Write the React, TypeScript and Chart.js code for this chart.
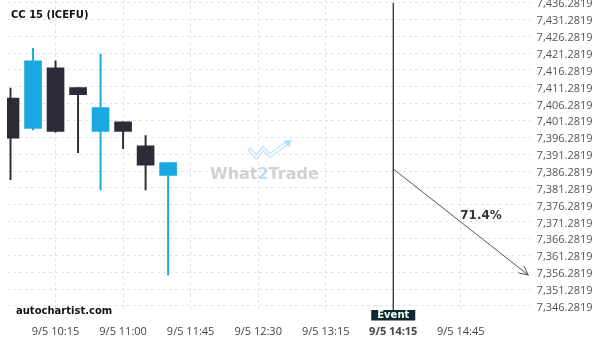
import React, { useEffect, useRef } from "react";
import { Chart, registerables } from "chart.js";

Chart.register(...registerables);

// ---- data ----
const candleTimes = ["9/5 09:45", "9/5 10:00", "9/5 10:15", "9/5 10:30", "9/5 10:45", "9/5 11:00", "9/5 11:15", "9/5 11:30"];
const opens = [7407.9, 7398.9, 7416.9, 7411.0, 7398.0, 7400.9, 7393.8, 7385.0];
const highs = [7410.9, 7422.7, 7419.0, 7411.0, 7421.0, 7400.9, 7396.8, 7388.8];
const lows = [7383.7, 7398.5, 7397.8, 7391.7, 7380.7, 7392.9, 7380.7, 7355.5];
const closes = [7396.0, 7419.0, 7398.0, 7408.9, 7405.1, 7398.0, 7388.0, 7388.8];

const xTickIndex = [2, 5, 8, 11, 14, 17, 20];
const xTickLabels = ["9/5 10:15", "9/5 11:00", "9/5 11:45", "9/5 12:30", "9/5 13:15", "9/5 14:15", "9/5 14:45"];
const yTicks = [
  7346.2819, 7351.2819, 7356.2819, 7361.2819, 7366.2819, 7371.2819, 7376.2819,
  7381.2819, 7386.2819, 7391.2819, 7396.2819, 7401.2819, 7406.2819, 7411.2819,
  7416.2819, 7421.2819, 7426.2819, 7431.2819, 7436.2819,
];

const eventIndex = 17;
const arrowX = [17, 23];
const arrowY = [7386.9, 7355.45];
const probabilityLabel = "71.4%";
const probabilityPos = [20.9, 7372.9];
const symbolTitle = "CC 15 (ICEFU)";
const brand = "autochartist.com";

const UP = "#1ba8e1";
const DOWN = "#2b2c37";

function fmt(v: number) {
  const [a, b] = v.toFixed(4).split(".");
  return a.replace(/\B(?=(\d{3})+(?!\d))/g, ",") + "." + b;
}

const overlay = {
  id: "overlay",
  beforeDatasetsDraw(chart: any) {
    const { ctx } = chart;
    ctx.save();
    // watermark logo
    ctx.lineJoin = "round";
    ctx.lineCap = "round";
    const pts = [
      [250, 150],
      [256.5, 157],
      [263, 148.5],
      [270, 155.5],
      [287, 143],
    ];
    ctx.strokeStyle = "rgba(150,205,235,0.55)";
    ctx.lineWidth = 4.5;
    ctx.beginPath();
    pts.forEach((p, i) => (i ? ctx.lineTo(p[0], p[1]) : ctx.moveTo(p[0], p[1])));
    ctx.stroke();
    ctx.strokeStyle = "#ffffff";
    ctx.lineWidth = 1.6;
    ctx.stroke();
    ctx.fillStyle = "rgba(150,205,235,0.55)";
    ctx.beginPath();
    ctx.moveTo(292, 139.5);
    ctx.lineTo(283, 141);
    ctx.lineTo(289.5, 147.5);
    ctx.closePath();
    ctx.fill();
    // watermark text
    ctx.font = "bold 16px 'DejaVu Sans'";
    ctx.textBaseline = "alphabetic";
    ctx.textAlign = "left";
    let x = 210;
    const y = 178.5;
    const parts: [string, string][] = [
      ["What", "rgba(165,165,165,0.5)"],
      ["2", "rgba(110,185,230,0.45)"],
      ["Trade", "rgba(165,165,165,0.5)"],
    ];
    for (const [t, c] of parts) {
      ctx.fillStyle = c;
      ctx.fillText(t, x, y);
      x += ctx.measureText(t).width;
    }
    ctx.restore();
  },
  afterDatasetsDraw(chart: any) {
    const { ctx, chartArea, scales } = chart;
    const xs = scales.x;
    const ys = scales.y;
    ctx.save();
    // event line
    const ex = xs.getPixelForValue(eventIndex);
    ctx.strokeStyle = "#0d2a30";
    ctx.lineWidth = 1.2;
    ctx.beginPath();
    ctx.moveTo(ex, chartArea.top + 3);
    ctx.lineTo(ex, chartArea.bottom);
    ctx.stroke();
    // event box
    ctx.fillStyle = "#0b2a2f";
    ctx.fillRect(ex - 22, chartArea.bottom, 44, 10.5);
    ctx.fillStyle = "#ffffff";
    ctx.font = "bold 10px 'DejaVu Sans'";
    ctx.textAlign = "center";
    ctx.textBaseline = "middle";
    ctx.fillText("Event", ex, chartArea.bottom + 5.5);
    // arrowhead
    const x1 = xs.getPixelForValue(arrowX[0]);
    const y1 = ys.getPixelForValue(arrowY[0]);
    const x2 = xs.getPixelForValue(arrowX[1]);
    const y2 = ys.getPixelForValue(arrowY[1]);
    const ang = Math.atan2(y2 - y1, x2 - x1);
    const L = 10;
    ctx.strokeStyle = "#555";
    ctx.lineWidth = 1;
    ctx.beginPath();
    ctx.moveTo(x2 - L * Math.cos(ang - 0.45), y2 - L * Math.sin(ang - 0.45));
    ctx.lineTo(x2, y2);
    ctx.lineTo(x2 - L * Math.cos(ang + 0.45), y2 - L * Math.sin(ang + 0.45));
    ctx.stroke();
    // probability label
    ctx.fillStyle = "#333";
    ctx.font = "bold 12px 'DejaVu Sans'";
    ctx.textAlign = "center";
    ctx.textBaseline = "middle";
    ctx.fillText(probabilityLabel, xs.getPixelForValue(probabilityPos[0]), ys.getPixelForValue(probabilityPos[1]));
    // title and brand
    ctx.textAlign = "left";
    ctx.fillStyle = "#111";
    ctx.font = "bold 10px 'DejaVu Sans'";
    ctx.fillText(symbolTitle, 11, 15);
    ctx.fillText(brand, 16, 311.5);
    ctx.restore();
  },
};

export default function App() {
  const ref = useRef<HTMLCanvasElement>(null);
  useEffect(() => {
    document.body.style.margin = "0";
    const color = (c: any) => {
      const i = c.dataIndex;
      return closes[i] >= opens[i] ? UP : DOWN;
    };
    const chart = new Chart(ref.current!, {
      type: "bar",
      data: {
        datasets: [
          {
            type: "bar",
            label: "wick",
            data: lows.map((l, i) => ({ x: i, y: [l, highs[i]] })) as any,
            backgroundColor: color,
            barThickness: 1.3,
            grouped: false,
            order: 2,
          } as any,
          {
            type: "bar",
            label: "body",
            data: opens.map((o, i) => ({ x: i, y: [o, closes[i]] })) as any,
            backgroundColor: color,
            barThickness: 17,
            grouped: false,
            order: 1,
          } as any,
          {
            type: "line",
            label: "forecast",
            data: arrowX.map((x, i) => ({ x, y: arrowY[i] })) as any,
            borderColor: "#555",
            borderWidth: 1,
            pointRadius: 0,
            order: 0,
          } as any,
        ],
      },
      options: {
        animation: false,
        responsive: false,
        layout: { padding: { left: 7, top: 0, right: 0, bottom: 0 } },
        plugins: { legend: { display: false }, tooltip: { enabled: false } },
        scales: {
          x: {
            type: "linear",
            min: -0.156,
            max: 23.1,
            offset: false,
            grid: { color: "#e4e4e4", drawTicks: false, offset: false },
            border: { display: false, dash: [3, 3] },
            afterBuildTicks: (axis: any) => {
              axis.ticks = xTickIndex.map((v) => ({ value: v }));
            },
            afterFit: (axis: any) => {
              axis.height = 30;
              axis.paddingLeft = 0;
              axis.paddingRight = 0;
            },
            ticks: {
              autoSkip: false,
              maxRotation: 0,
              padding: 15,
              color: "#444",
              font: (c: any) => ({
                family: "'Open Sans'",
                size: 11,
                weight: c.tick && c.tick.value === eventIndex ? "bold" : "normal",
              }),
              callback: (v: any) => {
                const k = xTickIndex.indexOf(Number(v));
                return k >= 0 ? xTickLabels[k] : "";
              },
            },
          },
          y: {
            type: "linear",
            position: "right",
            min: 7345.09,
            max: 7437.0,
            grid: { color: "#e4e4e4", drawTicks: false },
            border: { display: false, dash: [3, 3] },
            afterBuildTicks: (axis: any) => {
              axis.ticks = yTicks.map((v) => ({ value: v }));
            },
            afterFit: (axis: any) => {
              axis.width = 69.4;
              axis.paddingTop = 0;
              axis.paddingBottom = 0;
            },
            ticks: {
              padding: 6,
              labelOffset: 1.8,
              color: "#555",
              font: { family: "'Open Sans'", size: 11 },
              callback: (v: any) => fmt(Number(v)),
            },
          },
        },
      },
      plugins: [overlay],
    });
    return () => chart.destroy();
  }, []);
  return <canvas ref={ref} width={600} height={340} style={{ display: "block" }} aria-label={candleTimes.join(", ")} />;
}
